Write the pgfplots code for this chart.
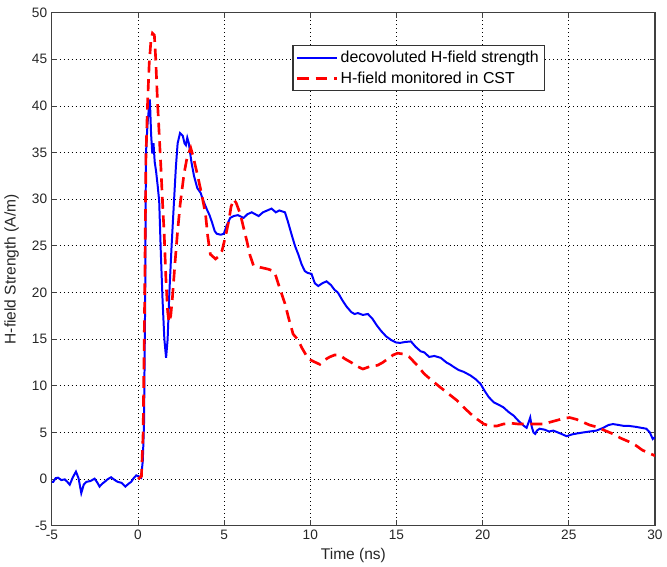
\documentclass[border=0pt]{standalone}
\usepackage{pgfplots}
\pgfplotsset{compat=1.18}
\usepackage{fontspec}
\setmainfont{Liberation Sans}
\definecolor{axgray}{HTML}{404040}
\begin{document}
\begin{tikzpicture}
\begin{axis}[
  name=main,
  scale only axis,
  width=455pt, height=387pt,
  xmin=-5, xmax=30, ymin=-5, ymax=50,
  xtick={-5,0,...,30}, ytick={-5,0,...,50},
  tick align=inside,
  major tick length=4pt,
  grid=major,
  major grid style={black, line width=0.7pt, dash pattern=on 0.75pt off 2.25pt},
  axis line style={axgray, line width=0.9pt},
  tick style={axgray, line width=0.7pt},
  every tick label/.append style={font=\fontsize{10.3}{12}\selectfont, text=black!85},
  /pgf/number format/assume math mode=true,
  xlabel={Time (ns)}, ylabel={H-field Strength (A/m)},
  label style={font=\fontsize{11.7}{14}\selectfont, text=black!85},
  xlabel style={yshift=1pt},
  ylabel style={yshift=3pt},
  legend style={at={(0.817,0.937)}, anchor=north east, draw=black!80, line width=0.8pt,
    font=\fontsize{12}{14}\selectfont, inner xsep=2pt, inner ysep=2pt, row sep=1.5pt},
  legend cell align=left,
  legend image code/.code={\draw[#1] (0pt,0pt) -- (30pt,0pt);},
]
\addplot[blue, line width=1.5pt] coordinates {
(-5,-0.3) (-4.92,-0.3) (-4.78,0.1) (-4.64,0.15) (-4.45,-0.1) (-4.25,-0.03) (-4.1,-0.3) (-3.96,-0.6) (-3.78,0.2) (-3.6,0.8) (-3.45,0.1) (-3.29,-1.5) (-3.15,-0.6) (-3.0,-0.3) (-2.75,-0.2) (-2.52,0.05) (-2.35,-0.4) (-2.23,-0.8) (-2.08,-0.5) (-1.94,-0.3) (-1.75,0.0) (-1.56,0.2) (-1.35,-0.1) (-1.17,-0.3) (-0.95,-0.4) (-0.73,-0.8) (-0.55,-0.5) (-0.4,-0.3) (-0.25,0.1) (-0.1,0.4) (0.05,0.3) (0.18,0.15) (0.28,2) (0.35,6) (0.42,20) (0.46,34.8) (0.55,38) (0.62,39.5) (0.69,40.7) (0.76,37) (0.83,34.9) (0.9,36) (0.97,34) (1.05,33) (1.14,31.5) (1.23,29.8) (1.33,24) (1.43,19) (1.53,15) (1.63,13) (1.72,15) (1.82,20) (1.95,25) (2.09,29.8) (2.2,33.5) (2.3,36) (2.44,37.1) (2.6,36.8) (2.7,36) (2.78,35.8) (2.86,36.6) (2.95,36) (3.1,34) (3.25,32.5) (3.44,31.2) (3.63,30.7) (3.8,29.8) (4.0,28.9) (4.15,28.3) (4.3,27.5) (4.45,26.6) (4.57,26.3) (4.8,26.2) (4.98,26.3) (5.15,27.2) (5.35,28.0) (5.55,28.2) (5.8,28.3) (6.13,28.0) (6.35,28.4) (6.6,28.6) (6.8,28.4) (7.0,28.2) (7.25,28.6) (7.5,28.8) (7.75,29.0) (8.0,28.6) (8.2,28.8) (8.53,28.6) (8.7,27.6) (8.9,26.3) (9.11,25.0) (9.3,24.1) (9.5,23.0) (9.68,22.3) (9.85,22.1) (10.07,22.0) (10.26,21.0) (10.46,20.7) (10.7,21.0) (10.94,21.2) (11.2,20.8) (11.4,20.3) (11.6,20.0) (11.85,19.2) (12.1,18.5) (12.38,17.9) (12.57,17.7) (12.76,17.8) (13.05,17.6) (13.34,17.7) (13.6,17.2) (13.85,16.5) (14.1,15.9) (14.4,15.3) (14.7,14.9) (14.97,14.65) (15.2,14.6) (15.5,14.7) (15.84,14.76) (16.1,14.2) (16.4,13.7) (16.6,13.6) (16.9,13.1) (17.2,13.2) (17.57,13.0) (17.9,12.5) (18.1,12.3) (18.34,12.0) (18.6,11.7) (18.9,11.5) (19.3,11.1) (19.6,10.7) (19.88,10.2) (20.1,9.5) (20.35,8.8) (20.64,8.24) (20.9,8.0) (21.2,7.7) (21.5,7.2) (21.8,6.8) (22.1,6.2) (22.4,5.7) (22.55,5.5) (22.65,6.0) (22.76,6.6) (22.85,5.6) (22.95,5.0) (23.05,4.85) (23.15,5.2) (23.3,5.4) (23.6,5.3) (23.85,5.1) (24.1,5.2) (24.5,4.9) (24.87,4.6) (25.2,4.8) (25.5,4.9) (25.83,5.0) (26.2,5.1) (26.6,5.2) (27.0,5.5) (27.3,5.8) (27.56,5.9) (27.9,5.8) (28.2,5.7) (28.5,5.7) (28.9,5.6) (29.2,5.5) (29.5,5.4) (29.7,5.0) (29.87,4.3) (30,4.5)
};
\addlegendentry{decovoluted H-field strength}
\addplot[red, line width=2pt, dash pattern=on 9pt off 5pt] coordinates {
(0,0) (0.2,0.3) (0.3,5) (0.38,18) (0.46,34.4) (0.55,40) (0.65,44.5) (0.75,47) (0.84,47.8) (0.95,47.6) (1.03,45) (1.13,40.5) (1.23,37) (1.33,33.4) (1.42,29.8) (1.52,26.3) (1.62,21.5) (1.72,18) (1.8,16.8) (1.9,17.5) (2.0,19.5) (2.14,23) (2.28,26.2) (2.45,29.5) (2.67,32.7) (2.85,34.5) (3.06,35.5) (3.2,34.6) (3.44,32.7) (3.7,30.5) (3.92,28.4) (4.05,26) (4.2,24.1) (4.5,23.6) (4.7,23.9) (4.88,24.5) (5.1,26.2) (5.27,27.7) (5.4,29.2) (5.55,30.0) (5.7,29.6) (5.94,28.4) (6.12,27) (6.32,25.5) (6.5,24) (6.7,22.9) (7.1,22.7) (7.57,22.5) (7.86,22.3) (7.96,22.0) (8.2,20.6) (8.53,18.8) (8.75,17.2) (9.0,15.55) (9.3,14.9) (9.5,14.1) (9.88,12.9) (10.2,12.6) (10.55,12.3) (10.85,12.8) (11.13,13.1) (11.4,13.3) (11.7,13.3) (12.0,12.9) (12.38,12.5) (12.7,12.1) (13.05,11.8) (13.5,12.1) (13.9,12.2) (14.2,12.5) (14.5,12.9) (14.8,13.3) (15.07,13.5) (15.4,13.4) (15.74,13.1) (16.2,12.2) (16.6,11.3) (17.1,10.5) (17.57,9.8) (18.05,9.1) (18.53,8.4) (18.9,7.7) (19.3,7.0) (19.7,6.4) (20.07,5.9) (20.45,5.7) (20.84,5.7) (21.2,5.9) (21.6,6.0) (22.1,5.9) (22.57,5.9) (23.05,5.9) (23.53,5.9) (23.9,6.1) (24.3,6.3) (24.7,6.5) (25.05,6.6) (25.45,6.4) (25.83,6.1) (26.2,5.8) (26.6,5.6) (27.1,5.2) (27.56,4.85) (28.0,4.4) (28.5,4.0) (28.9,3.6) (29.27,3.1) (29.65,2.8) (30,2.5)
};
\addlegendentry{H-field monitored in CST}
\end{axis}
\path (main.north west) ++(0,9.6pt) coordinate (bbtop);
\path (bbtop) -- (bbtop);
\end{tikzpicture}
\end{document}
